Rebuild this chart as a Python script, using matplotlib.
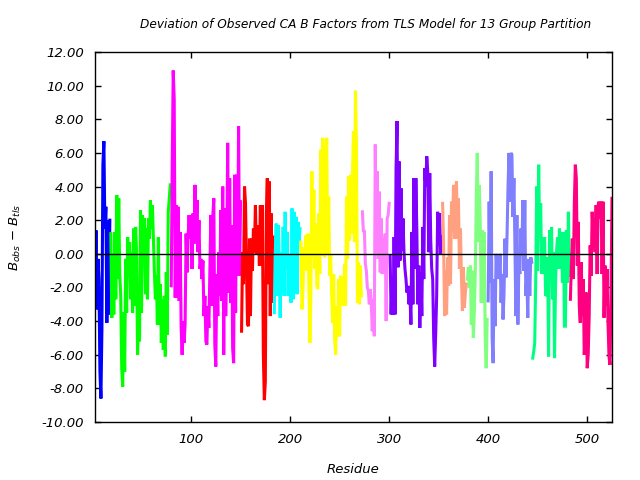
import numpy as np
import matplotlib
matplotlib.use("Agg")
import matplotlib.pyplot as plt
from matplotlib.ticker import FormatStrFormatter

# B_obs - B_tls per residue, one list per TLS group
group_starts = [2, 19, 80, 151, 184, 211, 273, 301, 354, 379, 400, 445, 483]
group_colors = ['#0000ff', '#00ff00', '#ff00ff', '#ff0000', '#00ffff', '#ffff00',
                '#ff80ff', '#8000ff', '#ffa080', '#80ff80', '#8080ff', '#00ff80',
                '#ff0080']

g1 = [-3.0, -3.1, 1.4, -3.3, -0.3, -1.5, -7.0, -8.6, -4.5, 5.3, 6.7, 1.5, 2.8,
      -4.1, 2.0, -3.6, 2.0]
g2 = [1.2, -3.8, 0.0, -3.6, 1.3, -2.7, 3.5, -1.5, 3.3, -1.1, -2.5, -6.8, -7.9,
      -3.5, -7.0, -0.3, -3.5, 1.0, -0.9, 0.7, -2.7, 0.1, -3.5, 1.5, -3.1, 1.6,
      0.1, -6.0, -3.5, -5.2, 2.6, -3.5, 2.3, -0.1, 2.1, -2.4, 1.5, -2.7, 2.1,
      0.9, 3.2, 1.5, 2.9, 0.9, -1.1, -2.7, -1.3, -4.2, 1.0, -4.2, -1.8, -5.3,
      -2.7, -5.7, -2.5, -6.1, -1.1, -4.8, 2.5, 3.3, 4.1]
g3 = [-1.9, 5.3, 10.9, 9.2, -2.6, 2.9, -2.6, 2.8, -2.8, 1.3, -4.4, -6.0, -4.0,
      -5.3, -4.2, 1.2, -1.1, 1.0, 2.3, 0.9,
      2.3, -0.9, 2.4, 0.6, 4.1, 0.9, 3.2, 0.1, 2.0, -0.9, -0.3, -1.5, -0.4,
      -3.7, -2.5, -5.2, -5.4, -3.1, -4.4, -1.0, 2.3, -3.1, 2.3, 3.3, -5.4,
      -6.7, -1.2, -3.7, 0.1, -2.5, 2.6, -2.8, 4.0, -6.0, 2.7, -3.7, -0.3, 6.6,
      -2.3, 4.5, -2.9, 1.7, -5.6, -6.5, 4.7, -3.5, 4.7, -1.3, 7.6, -1.3, 3.1]
g4 = [-4.6, 0.1, -1.8, 4.0, 3.0, -0.7, -4.2, -4.3, 0.9, -3.7, 0.9, -1.0, 1.5,
      0.1, 2.9, 0.0, 0.9, 1.7, -0.7, 2.9, -0.7, 2.9, -6.0, -8.7, -7.6, 2.4,
      4.5, -1.8, 4.3, -3.7, 2.4, -2.9, 1.0]
g5 = [-3.5, 0.0, 1.8, -2.5, 1.7, -0.3, -3.8, 0.1, -2.3, 1.6, -2.5, 2.5, -0.9,
      1.3, -2.5, 0.0, -0.9, -2.9, 2.7, -2.7, 2.5, -2.2, 2.2, -2.4, 1.9, 0.7,
      1.5]
g6 = [0.7, -3.3, -2.3, 0.4, -0.9, 1.1, -1.0, 1.2, -1.9, -5.3, -2.5, 4.9, -0.3,
      3.8, -0.9, 1.8, -1.9, -2.1, 2.4, -1.2, 6.2, -0.1, 6.9, 5.5, -0.2, 5.3,
      6.9, 0.0, 3.4, -1.3, -0.1, -2.5, -4.1, -1.2, -5.1, -6.0, -3.1, -4.9,
      -1.5, -4.9, -1.3, -3.0, -1.4, -3.1, -0.6, -3.1, 3.4, -0.3, 4.6, 0.8, 4.7,
      1.2, 4.7, 7.3, 0.7, 9.7, 6.6, -2.9, -0.5, -3.0, -0.7, -2.5]
g7 = [2.5, 1.3, 1.4, -0.6, -1.0, -2.0, -2.2, -3.0, -2.1, -3.0, -4.6, -2.7,
      -4.9, 6.5, 0.1, 4.9, -0.3, 3.7, -1.1, 2.1, -1.2, 0.9, -1.1, 1.2, -4.0,
      2.1, 2.3, 3.0]
g8 = [-0.1, -3.6, -1.5, -3.6, 1.0, -3.6, 5.1, 7.9, -0.8, 5.5, -0.4, 3.9, 0.2,
      2.1, 0.1, -0.9, -1.5, -2.3, -1.9, -3.0, -2.4, -4.2, 1.3, -3.0, 4.5, -0.9,
      4.5, 1.3, -3.0, -0.7, -4.4, -1.1, -3.7, 1.6, -1.5, 5.1, 4.0, 5.8, 4.9,
      0.1, 4.8, 0.8, -0.9, -1.5, -5.0, -6.7, -4.8, -2.5, 2.5, 0.5, 2.4, 0.0,
      1.0]
g9 = [3.0, 0.5, -3.7, -1.0, -3.6, -0.2, -1.9, 2.3, -1.8, 3.1, 1.3, 4.1, 0.9,
      3.3, 4.3, 0.9, 3.3, -0.9, 1.5, -1.3, -3.4, -0.8, -3.2, -2.3, -1.8]
g10 = [-1.5, -0.8, -2.0, -0.7, -4.2, -1.0, -5.0, -3.5, -1.2, 3.3, 6.0, 0.7,
       4.1, 1.8, -2.9, 1.4, -2.9, 1.3, -5.0, -6.8, -3.9]
g11 = [-2.8, 3.1, -1.7, 4.9, -5.0, -6.5, -1.5, -4.3, 0.0, -1.0, -0.1, -1.5,
       0.0, -2.9, -1.2, -3.9, -2.4, 0.9, -1.4, 0.9, 3.9, 6.0, 3.1, 6.0, 5.9,
       2.2, 4.5, 0.5, -3.7, 2.3, -4.2, -0.5, -1.2, 1.5, -0.1, 3.2, -1.0, 3.2,
       -2.5, -1.4, -3.8, -0.3, -2.5, -0.2, -0.5]
g12 = [-6.2, -5.8, -5.3, -1.6, 4.0, -1.0, 5.3, 1.0, 3.0, -1.2, 1.0, -1.2, 1.0,
       -2.5, -2.4, -0.2, -6.1, 1.4, -1.5, 1.6, -2.7, 0.1, -6.2, -1.9, 0.1, 1.0,
       -0.9, 1.5, -0.9, 1.3, -1.7, 1.3, -4.3, -4.3, 1.4, -1.7, 2.5, -1.3]
g13 = [-2.7, -0.8, 0.9, -1.5, 3.0, 5.3, 4.5, -0.7, 1.9, -3.1, -4.1, -0.5, -3.7,
       -1.5, -6.0, -5.0, -2.3, -6.8, -6.0, -3.7, 0.5, -1.3, 2.5, 0.9, 2.1, 0.1,
       2.9, -1.2, 2.9, 3.1, 2.1, 3.1, -1.2, 3.1, -3.8, -0.7, -3.1, -0.9, -4.1,
       -6.1, -6.6, -2.7, 3.3]
groups = [g1, g2, g3, g4, g5, g6, g7, g8, g9, g10, g11, g12, g13]

plt.rcParams['font.family'] = ['DejaVu Sans']
plt.rcParams['mathtext.fontset'] = 'dejavusans'

fig = plt.figure(figsize=(6.4, 4.8), dpi=100)
ax = fig.add_axes([0.1484, 0.1208, 0.8078, 0.7708])

for start, vals, col in zip(group_starts, groups, group_colors):
    res = np.arange(start, start + len(vals))
    ax.plot(res, vals, color=col, lw=2.2, solid_joinstyle='miter')

# zero line sits on top of the traces like in the original
ax.axhline(0, color='black', lw=1.0, zorder=5)

ax.set_xlim(3, 525)
ax.set_ylim(-10, 12)
ax.set_xticks([100, 200, 300, 400, 500])
ax.set_yticks(np.arange(-10, 13, 2))
ax.yaxis.set_major_formatter(FormatStrFormatter('%.2f'))
ax.tick_params(direction='in', top=True, right=True, length=4, width=1,
               labelsize=9.5, pad=8)
for lab in ax.get_xticklabels() + ax.get_yticklabels():
    lab.set_fontstyle('italic')
for sp in ax.spines.values():
    sp.set_linewidth(1.0)
    sp.set_zorder(6)

ax.set_title('Deviation of Observed CA B Factors from TLS Model for 13 Group Partition',
             fontsize=8.7, style='italic', pad=17, x=0.523)
ax.set_xlabel('Residue', fontsize=9.5, style='italic', labelpad=12)
ax.set_ylabel(r'$B_{obs}$ $-$ $B_{tls}$', fontsize=9.5, labelpad=13)

fig.savefig('out.png', dpi=100)
